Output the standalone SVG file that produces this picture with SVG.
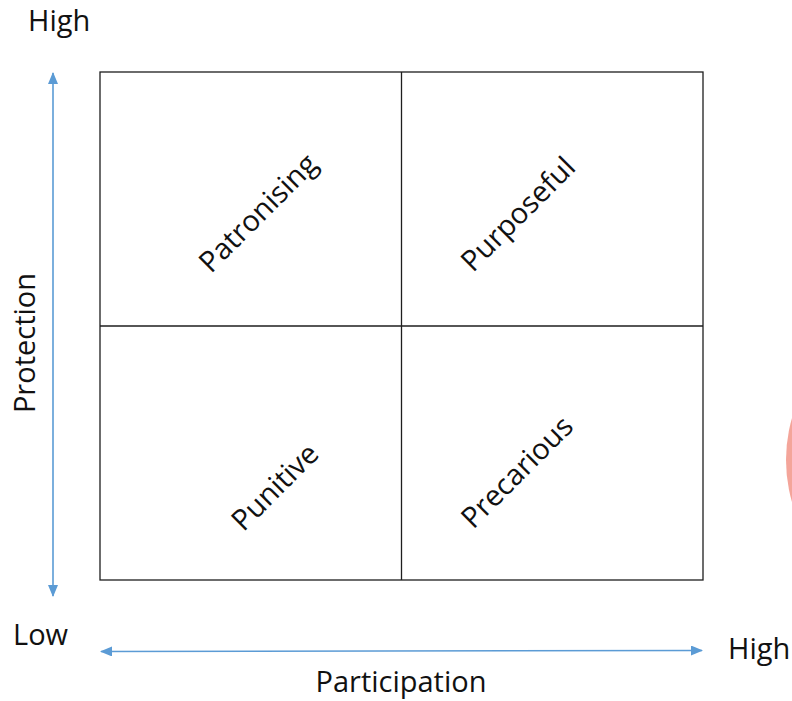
<svg xmlns="http://www.w3.org/2000/svg" width="792" height="701" viewBox="0 0 792 701">
  <style>
    .lbl { font-family: "Open Sans", "Liberation Sans", sans-serif; font-size: 29px; fill: #111; }
    .mid { text-anchor: middle; }
    .grid { fill: none; stroke: #1e1e1e; stroke-width: 1.3; }
    .axis { fill: none; stroke: #5b9bd5; stroke-width: 1.6; }
  </style>
  <defs>
    <marker id="arrow" viewBox="0 0 12 10" refX="11" refY="5" markerWidth="12" markerHeight="10" markerUnits="userSpaceOnUse" orient="auto-start-reverse">
      <path d="M0,0 L12,5 L0,10 Z" fill="#5b9bd5"/>
    </marker>
  </defs>
  <rect width="792" height="701" fill="#ffffff"/>

  <!-- partial circle at the right edge -->
  <circle cx="936" cy="460" r="150" fill="#f4a59a"/>

  <!-- quadrant frame -->
  <g id="matrix">
    <rect class="grid" x="100" y="72" width="603" height="508"/>
    <line class="grid" x1="401.5" y1="72" x2="401.5" y2="580"/>
    <line class="grid" x1="100" y1="326" x2="703" y2="326"/>
  </g>

  <!-- axes -->
  <g id="connectors">
    <line class="axis" x1="53" y1="73" x2="53" y2="596" marker-start="url(#arrow)" marker-end="url(#arrow)"/>
    <line class="axis" x1="101" y1="651.5" x2="702" y2="650.5" marker-start="url(#arrow)" marker-end="url(#arrow)"/>
  </g>

  <!-- axis labels -->
  <g id="axis-labels">
    <text class="lbl" x="28" y="31">High</text>
    <text class="lbl" x="13" y="645">Low</text>
    <text class="lbl" x="728" y="659">High</text>
    <text class="lbl mid" x="401" y="692">Participation</text>
    <text class="lbl mid" transform="translate(35,343) rotate(-90)">Protection</text>
  </g>

  <!-- quadrant labels -->
  <g id="patronising">
    <text class="lbl mid" transform="translate(258,213) rotate(-45)" y="10">Patronising</text>
  </g>
  <g id="purposeful">
    <text class="lbl mid" transform="translate(518,214) rotate(-45)" y="10">Purposeful</text>
  </g>
  <g id="punitive">
    <text class="lbl mid" transform="translate(275,487) rotate(-45)" y="10">Punitive</text>
  </g>
  <g id="precarious">
    <text class="lbl mid" transform="translate(517,472) rotate(-45)" y="10">Precarious</text>
  </g>
</svg>
